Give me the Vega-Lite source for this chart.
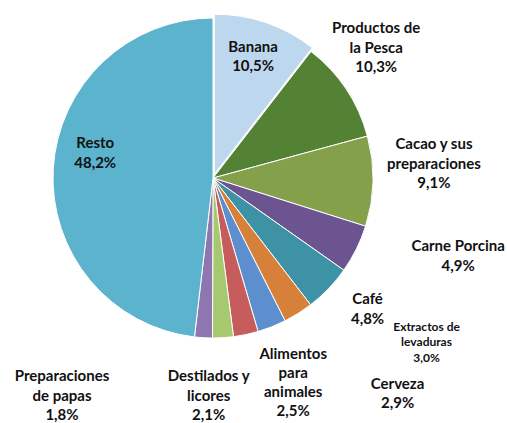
{
  "$schema": "https://vega.github.io/schema/vega-lite/v6.json",
  "autosize": {"type": "none"},
  "width": 320,
  "height": 320,
  "padding": {"left": 53, "top": 18, "right": 134, "bottom": 85},
  "background": "white",
  "config": {"view": {"stroke": null}},
  "data": {
    "values": [
      {"idx": 1, "cat": "Banana", "value": 10.5, "label": "Banana\n10,5%"},
      {"idx": 2, "cat": "Productos de la Pesca", "value": 10.3, "label": "Productos de\nla Pesca\n10,3%"},
      {"idx": 3, "cat": "Cacao y sus preparaciones", "value": 9.1, "label": "Cacao y sus\npreparaciones\n9,1%"},
      {"idx": 4, "cat": "Carne Porcina", "value": 4.9, "label": "Carne Porcina\n4,9%"},
      {"idx": 5, "cat": "Café", "value": 4.8, "label": "Café\n4,8%"},
      {"idx": 6, "cat": "Extractos de levaduras", "value": 3.0, "label": "Extractos de\nlevaduras\n3,0%"},
      {"idx": 7, "cat": "Cerveza", "value": 2.9, "label": "Cerveza\n2,9%"},
      {"idx": 8, "cat": "Alimentos para animales", "value": 2.5, "label": "Alimentos\npara\nanimales\n2,5%"},
      {"idx": 9, "cat": "Destilados y licores", "value": 2.1, "label": "Destilados y\nlicores\n2,1%"},
      {"idx": 10, "cat": "Preparaciones de papas", "value": 1.8, "label": "Preparaciones\nde papas\n1,8%"},
      {"idx": 11, "cat": "Resto", "value": 48.2, "label": "Resto\n48,2%"}
    ]
  },
  "encoding": {
    "theta": {"field": "value", "type": "quantitative", "stack": true},
    "order": {"field": "idx", "type": "quantitative"}
  },
  "layer": [
    {
      "mark": {"type": "arc", "stroke": "white", "strokeWidth": 1},
      "encoding": {
        "color": {
          "field": "cat", "type": "nominal", "legend": null,
          "scale": {
            "domain": ["Banana", "Productos de la Pesca", "Cacao y sus preparaciones", "Carne Porcina", "Café", "Extractos de levaduras", "Cerveza", "Alimentos para animales", "Destilados y licores", "Preparaciones de papas", "Resto"],
            "range": ["#BDD7EE", "#548235", "#84A04B", "#6B548F", "#3E92A5", "#D7803A", "#5D8FCF", "#C65C5C", "#A6C86E", "#8E76B0", "#5BB3CD"]
          }
        },
        "opacity": {"condition": {"test": "datum.cat === 'Banana'", "value": 0}, "value": 1}
      }
    },
    {
      "mark": {"type": "arc", "stroke": "white", "strokeWidth": 1, "xOffset": 1.3, "yOffset": -3.8},
      "encoding": {
        "color": {"field": "cat", "type": "nominal", "legend": null},
        "opacity": {"condition": {"test": "datum.cat === 'Banana'", "value": 1}, "value": 0}
      }
    },
    {
      "mark": {"type": "text", "font": "Lato", "fontWeight": "bold", "fontSize": 15, "lineHeight": 19.5, "lineBreak": "\n", "align": "center", "baseline": "middle", "color": "#111111", "radius": 127, "dx": -1, "dy": -11},
      "encoding": {"detail": {"field": "cat"}, "text": {"condition": {"test": "datum.cat === 'Banana'", "field": "label"}, "value": ""}}
    },
    {
      "mark": {"type": "text", "font": "Lato", "fontWeight": "bold", "fontSize": 15, "lineHeight": 19.5, "lineBreak": "\n", "align": "center", "baseline": "middle", "color": "#111111", "radius": 195, "dx": 1, "dy": -41.5},
      "encoding": {"detail": {"field": "cat"}, "text": {"condition": {"test": "datum.cat === 'Productos de la Pesca'", "field": "label"}, "value": ""}}
    },
    {
      "mark": {"type": "text", "font": "Lato", "fontWeight": "bold", "fontSize": 15, "lineHeight": 19.5, "lineBreak": "\n", "align": "center", "baseline": "middle", "color": "#111111", "radius": 221, "dx": 0, "dy": -38.5},
      "encoding": {"detail": {"field": "cat"}, "text": {"condition": {"test": "datum.cat === 'Cacao y sus preparaciones'", "field": "label"}, "value": ""}}
    },
    {
      "mark": {"type": "text", "font": "Lato", "fontWeight": "bold", "fontSize": 15, "lineHeight": 19.5, "lineBreak": "\n", "align": "center", "baseline": "middle", "color": "#111111", "radius": 230, "dx": 39, "dy": -34},
      "encoding": {"detail": {"field": "cat"}, "text": {"condition": {"test": "datum.cat === 'Carne Porcina'", "field": "label"}, "value": ""}}
    },
    {
      "mark": {"type": "text", "font": "Lato", "fontWeight": "bold", "fontSize": 15, "lineHeight": 19.5, "lineBreak": "\n", "align": "center", "baseline": "middle", "color": "#111111", "radius": 185, "dx": 21, "dy": -7},
      "encoding": {"detail": {"field": "cat"}, "text": {"condition": {"test": "datum.cat === 'Café'", "field": "label"}, "value": ""}}
    },
    {
      "mark": {"type": "text", "font": "Lato", "fontWeight": "bold", "fontSize": 12, "lineHeight": 15.5, "lineBreak": "\n", "align": "center", "baseline": "middle", "color": "#111111", "radius": 200, "dx": 107, "dy": -20.5},
      "encoding": {"detail": {"field": "cat"}, "text": {"condition": {"test": "datum.cat === 'Extractos de levaduras'", "field": "label"}, "value": ""}}
    },
    {
      "mark": {"type": "text", "font": "Lato", "fontWeight": "bold", "fontSize": 15, "lineHeight": 19.5, "lineBreak": "\n", "align": "center", "baseline": "middle", "color": "#111111", "radius": 230, "dx": 100, "dy": -8},
      "encoding": {"detail": {"field": "cat"}, "text": {"condition": {"test": "datum.cat === 'Cerveza'", "field": "label"}, "value": ""}}
    },
    {
      "mark": {"type": "text", "font": "Lato", "fontWeight": "bold", "fontSize": 15, "lineHeight": 19, "lineBreak": "\n", "align": "center", "baseline": "middle", "color": "#111111", "radius": 210, "dx": 37, "dy": -29.5},
      "encoding": {"detail": {"field": "cat"}, "text": {"condition": {"test": "datum.cat === 'Alimentos para animales'", "field": "label"}, "value": ""}}
    },
    {
      "mark": {"type": "text", "font": "Lato", "fontWeight": "bold", "fontSize": 15, "lineHeight": 19.5, "lineBreak": "\n", "align": "center", "baseline": "middle", "color": "#111111", "radius": 218, "dx": -18, "dy": -19.5},
      "encoding": {"detail": {"field": "cat"}, "text": {"condition": {"test": "datum.cat === 'Destilados y licores'", "field": "label"}, "value": ""}}
    },
    {
      "mark": {"type": "text", "font": "Lato", "fontWeight": "bold", "fontSize": 15, "lineHeight": 19.5, "lineBreak": "\n", "align": "center", "baseline": "middle", "color": "#111111", "radius": 218, "dx": -138, "dy": -19.5},
      "encoding": {"detail": {"field": "cat"}, "text": {"condition": {"test": "datum.cat === 'Preparaciones de papas'", "field": "label"}, "value": ""}}
    },
    {
      "mark": {"type": "text", "font": "Lato", "fontWeight": "bold", "fontSize": 15, "lineHeight": 19.5, "lineBreak": "\n", "align": "center", "baseline": "middle", "color": "#111111", "radius": 118, "dx": 0, "dy": -28},
      "encoding": {"detail": {"field": "cat"}, "text": {"condition": {"test": "datum.cat === 'Resto'", "field": "label"}, "value": ""}}
    }
  ]
}
